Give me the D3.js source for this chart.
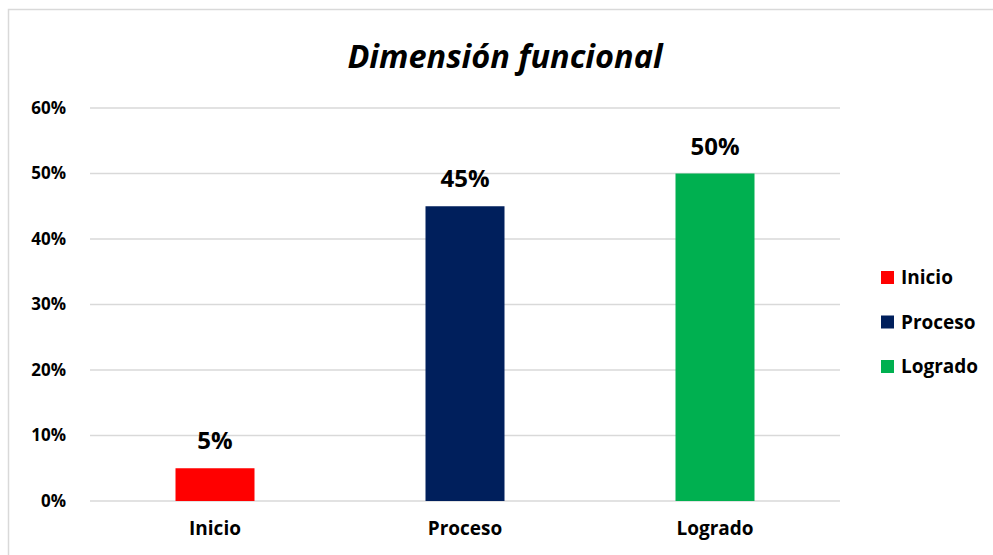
<!DOCTYPE html>
<html>
<head>
<meta charset="utf-8">
<script src="https://cdn.jsdelivr.net/npm/d3@7"></script>
<style>
  body { margin: 0; background: #fff; }
  svg text { font-family: "Open Sans", "Liberation Sans", sans-serif; font-weight: bold; fill: #000; }
</style>
</head>
<body>
<svg id="chart" width="993" height="555"></svg>
<script>
// data
const categories = ["Inicio", "Proceso", "Logrado"];
const values = [0.05, 0.45, 0.50];
const colors = ["#ff0000", "#001f5c", "#00b050"];
const yTicks = [0, 0.1, 0.2, 0.3, 0.4, 0.5, 0.6];

const svg = d3.select("#chart");
const W = 993, H = 555;
const plot = { left: 90, right: 840, top: 108, bottom: 501 };

// outer frame
svg.append("rect")
    .attr("x", 8.5).attr("y", 9.5)
    .attr("width", W + 20).attr("height", H + 20)
    .attr("fill", "none")
    .attr("stroke", "#d9d9d9")
    .attr("stroke-width", 1.5);

// scales
const x = d3.scaleBand()
    .domain(categories)
    .range([plot.left, plot.right])
    .paddingInner(0.684)
    .paddingOuter(0.342);

const y = d3.scaleLinear()
    .domain([0, 0.6])
    .range([plot.bottom, plot.top]);

// gridlines
svg.append("g")
    .selectAll("line")
    .data(yTicks)
    .join("line")
    .attr("x1", plot.left)
    .attr("x2", plot.right)
    .attr("y1", d => y(d))
    .attr("y2", d => y(d))
    .attr("stroke", "#d9d9d9")
    .attr("stroke-width", 1.5);

// y axis labels
const yAxis = d3.axisLeft(y)
    .tickValues(yTicks)
    .tickFormat(d3.format(".0%"))
    .tickSize(0)
    .tickPadding(0);
const gy = svg.append("g")
    .attr("transform", `translate(66,0)`)
    .call(yAxis);
gy.select(".domain").remove();
gy.selectAll("text")
    .attr("font-size", 17)
    .attr("font-family", null);

// x axis labels
const xAxis = d3.axisBottom(x).tickSize(0).tickPadding(0);
const gx = svg.append("g")
    .attr("transform", `translate(0,${plot.bottom + 20})`)
    .call(xAxis);
gx.select(".domain").remove();
gx.selectAll("text")
    .attr("font-size", 19)
    .attr("font-family", null);

// bars
svg.append("g")
    .selectAll("rect")
    .data(categories)
    .join("rect")
    .attr("x", d => x(d))
    .attr("width", x.bandwidth())
    .attr("y", (d, i) => y(values[i]))
    .attr("height", (d, i) => y(0) - y(values[i]))
    .attr("fill", (d, i) => colors[i]);

// value labels
svg.append("g")
    .selectAll("text")
    .data(categories)
    .join("text")
    .attr("x", d => x(d) + x.bandwidth() / 2)
    .attr("y", (d, i) => y(values[i]) - 19)
    .attr("text-anchor", "middle")
    .attr("font-size", 24)
    .text((d, i) => d3.format(".0%")(values[i]));

// title
svg.append("text")
    .attr("x", 505)
    .attr("y", 68)
    .attr("text-anchor", "middle")
    .attr("font-size", 32.5)
    .attr("font-style", "italic")
    .text("Dimensión funcional");

// legend
const legend = svg.append("g")
    .attr("transform", "translate(881,271)")
    .selectAll("g")
    .data(categories)
    .join("g")
    .attr("transform", (d, i) => `translate(0,${i * 44.5})`);
legend.append("rect")
    .attr("width", 13).attr("height", 13)
    .attr("fill", (d, i) => colors[i]);
legend.append("text")
    .attr("x", 20)
    .attr("y", 13)
    .attr("font-size", 19)
    .text(d => d);
</script>
</body>
</html>
